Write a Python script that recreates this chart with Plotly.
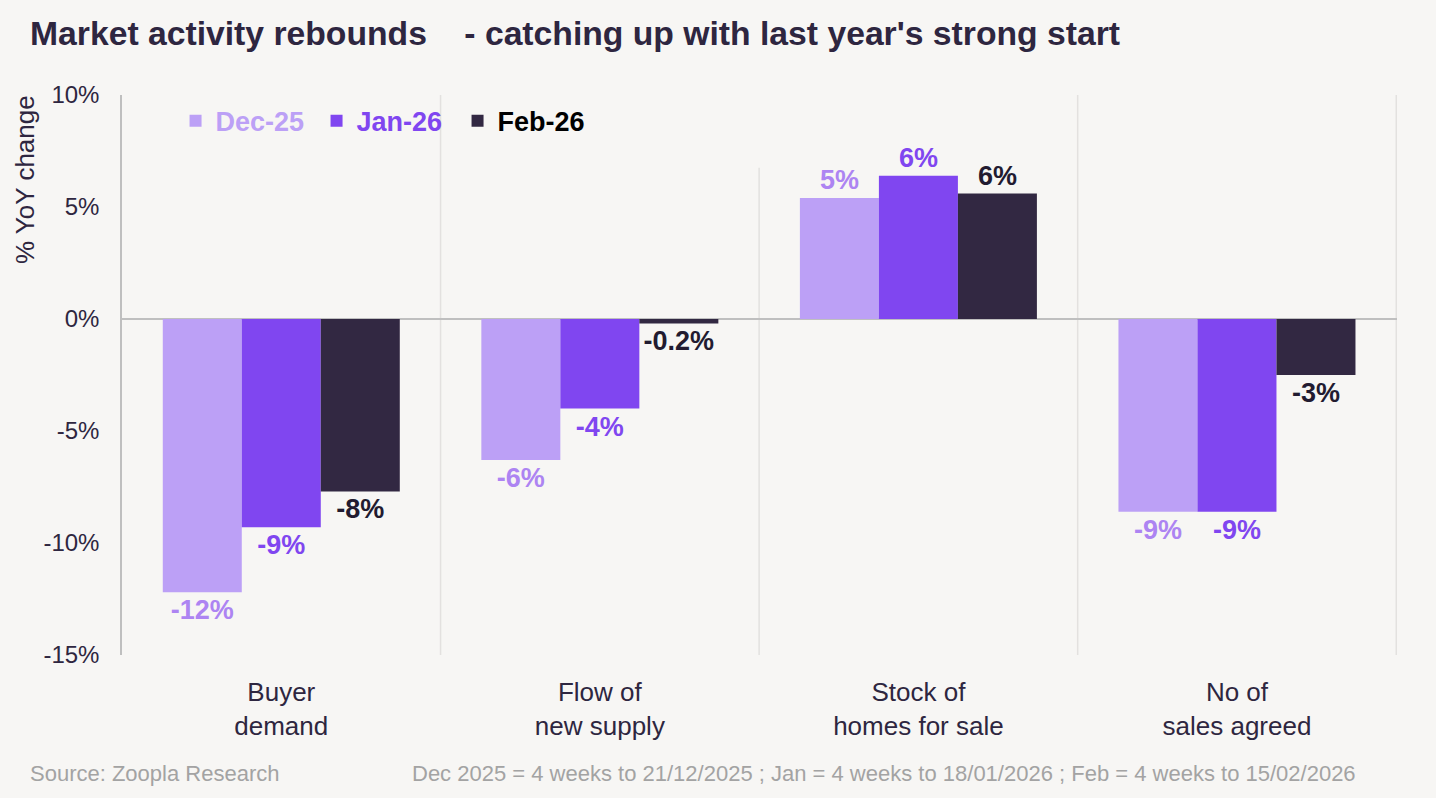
import plotly.graph_objects as go

categories = ["Buyer<br>demand", "Flow of<br>new supply", "Stock of<br>homes for sale", "No of<br>sales agreed"]
series_names = ["Dec-25", "Jan-26", "Feb-26"]
dec_values = [-12.2, -6.3, 5.4, -8.6]
jan_values = [-9.3, -4.0, 6.4, -8.6]
feb_values = [-7.7, -0.2, 5.6, -2.5]
dec_labels = ["-12%", "-6%", "5%", "-9%"]
jan_labels = ["-9%", "-4%", "6%", "-9%"]
feb_labels = ["-8%", "-0.2%", "6%", "-3%"]
y_ticks = [-15, -10, -5, 0, 5, 10]

BG = "#F7F6F4"
DARK = "#2E2640"
bar_colors = ["#BCA0F6", "#8046F0", "#322842"]
label_colors = ["#AD84F2", "#8046F0", "#221B30"]
legend_colors = ["#BCA0F6", "#8046F0", "#000000"]
FONT = "Liberation Sans, Arial, sans-serif"

fig = go.Figure()
for name, vals, labs, bc, lc, gc in zip(series_names, [dec_values, jan_values, feb_values],
                                        [dec_labels, jan_labels, feb_labels],
                                        bar_colors, label_colors, legend_colors):
    fig.add_trace(go.Bar(
        x=categories, y=vals, name=f"<span style='color:{gc}'><b>{name}</b></span>",
        marker=dict(color=bc, line=dict(width=0)),
        text=labs, textposition="outside", cliponaxis=False,
        textfont=dict(family=FONT, size=27, color=lc, weight="bold"),
        hovertemplate=name + ": %{y}%<extra></extra>",
    ))

# vertical separators between categories
sep_tops = [1.0, 0.87, 1.0, 1.0]
for i, top in enumerate(sep_tops):
    fig.add_shape(type="line", xref="x", yref="paper", x0=i + 0.5, x1=i + 0.5, y0=0, y1=top,
                  line=dict(color="#E3E1DF", width=1.5), layer="below")

fig.update_layout(
    width=1436, height=798,
    paper_bgcolor=BG, plot_bgcolor=BG,
    margin=dict(l=122, r=39, t=95, b=143),
    barmode="group", bargap=0.256, bargroupgap=0,
    font=dict(family=FONT, color=DARK),
    title=dict(text="<b>Market activity rebounds    - catching up with last year's strong start</b>",
               x=30 / 1436, xanchor="left", y=1 - 33 / 798, yanchor="middle", yref="container",
               font=dict(size=33.7, color=DARK, family=FONT)),
    legend=dict(orientation="h", x=0.042, xanchor="left", y=0.953, yanchor="middle",
                font=dict(size=27, family=FONT), bgcolor="rgba(0,0,0,0)",
                entrywidth=96, entrywidthmode="pixels", traceorder="normal"),
    showlegend=True,
)
fig.update_yaxes(range=[-15, 10], tickvals=y_ticks, ticktext=[f"{v}%" for v in y_ticks],
                 showgrid=False, zeroline=True, zerolinecolor="#BFBFBF", zerolinewidth=2,
                 showline=True, linecolor="#BFBFBF", linewidth=1.5,
                 tickfont=dict(size=24, color=DARK), ticklabelstandoff=16, ticks="")
fig.update_xaxes(showgrid=False, showline=False, tickfont=dict(size=26, color=DARK),
                 ticklabelstandoff=19, ticks="")

fig.add_annotation(text="% YoY change", textangle=-90, xref="paper", yref="paper",
                   x=(25 - 122) / 1275, y=(655 - 180) / 560, xanchor="center", yanchor="middle",
                   showarrow=False, font=dict(size=26, color=DARK))
fig.add_annotation(text="Source: Zoopla Research", xref="paper", yref="paper",
                   x=(28 - 122) / 1275, y=(655 - 773) / 560, xanchor="left", yanchor="middle",
                   showarrow=False, font=dict(size=22, color="#A3A3A3"))
fig.add_annotation(text="Dec 2025 = 4 weeks to 21/12/2025 ; Jan = 4 weeks to 18/01/2026 ; Feb = 4 weeks to 15/02/2026",
                   xref="paper", yref="paper",
                   x=(1358 - 122) / 1275, y=(655 - 773) / 560, xanchor="right", yanchor="middle",
                   showarrow=False, font=dict(size=22, color="#A3A3A3"))

fig.write_html("out.html", config={"displayModeBar": False},
               post_script="document.body.style.margin='0';document.body.style.overflow='hidden';")
